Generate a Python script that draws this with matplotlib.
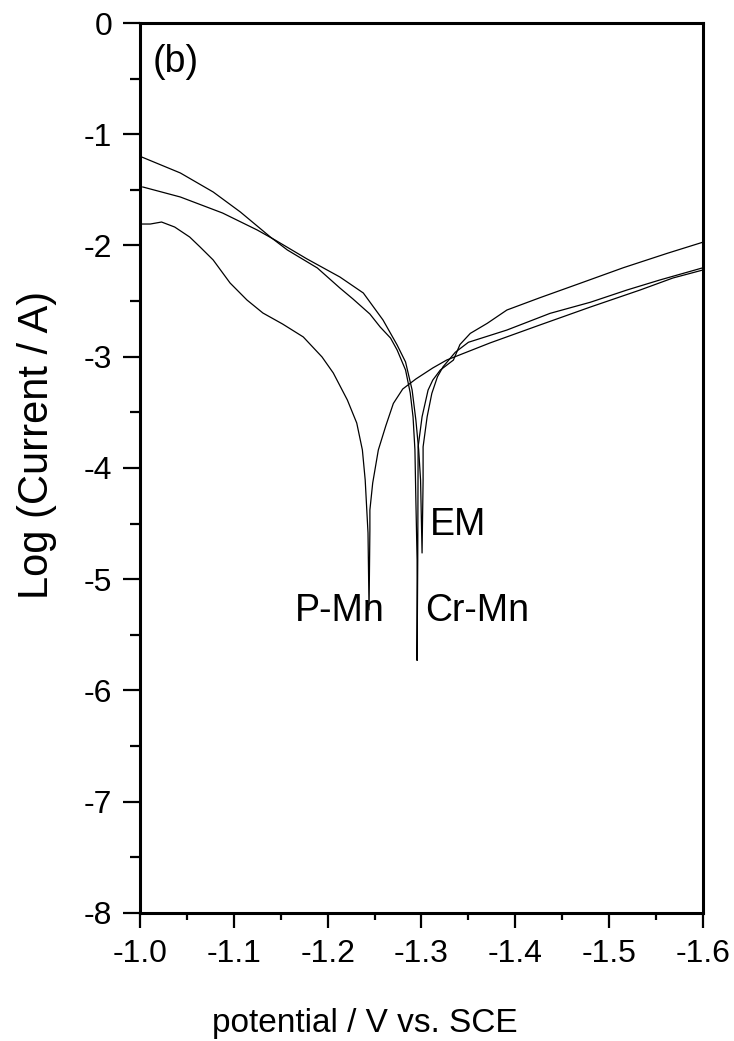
import numpy as np
import matplotlib.pyplot as plt

plt.rcParams['font.family'] = ['Liberation Sans', 'DejaVu Sans']

# potential (V vs. SCE) and log(current / A)
crmn_E = [-1.002, -1.043, -1.078, -1.107, -1.139, -1.157, -1.189, -1.213, -1.227,
          -1.245, -1.256, -1.267, -1.274, -1.283, -1.288, -1.291, -1.293, -1.294, -1.2953,
          -1.2953, -1.296, -1.2964, -1.3006, -1.307, -1.312, -1.320, -1.334, -1.341,
          -1.352, -1.370, -1.391, -1.426, -1.469, -1.515, -1.562, -1.600]
crmn_logI = [-1.205, -1.348, -1.519, -1.699, -1.924, -2.040, -2.202, -2.382, -2.481,
             -2.616, -2.733, -2.832, -2.939, -3.119, -3.326, -3.542, -3.838, -4.288, -4.827,
             -5.73, -4.83, -3.81, -3.54, -3.30, -3.21, -3.12, -3.03, -2.89,
             -2.79, -2.70, -2.58, -2.47, -2.34, -2.20, -2.07, -1.97]

em_E = [-1.003, -1.043, -1.088, -1.125, -1.144, -1.178, -1.213, -1.238, -1.259,
        -1.274, -1.283, -1.290, -1.294, -1.297, -1.299, -1.3006, -1.3017, -1.3017,
        -1.306, -1.311, -1.317, -1.323, -1.336, -1.350, -1.391, -1.437, -1.480,
        -1.519, -1.554, -1.600]
em_logI = [-1.474, -1.564, -1.708, -1.861, -1.951, -2.121, -2.283, -2.427, -2.670,
           -2.894, -3.047, -3.299, -3.569, -3.838, -4.108, -4.764, -4.11, -3.81,
           -3.54, -3.33, -3.18, -3.09, -2.96, -2.87, -2.76, -2.61, -2.51,
           -2.40, -2.31, -2.20]

pmn_E = [-1.002, -1.011, -1.023, -1.037, -1.053, -1.064, -1.078, -1.096, -1.114,
         -1.131, -1.152, -1.174, -1.194, -1.206, -1.221, -1.231, -1.237, -1.240,
         -1.243, -1.2441, -1.245, -1.245, -1.248, -1.254, -1.262, -1.270, -1.280,
         -1.294, -1.312, -1.327, -1.373, -1.426, -1.480, -1.533, -1.568, -1.600]
pmn_logI = [-1.807, -1.807, -1.789, -1.834, -1.924, -2.013, -2.130, -2.337, -2.490,
            -2.607, -2.706, -2.822, -3.002, -3.146, -3.389, -3.596, -3.838, -4.108,
            -4.584, -5.276, -4.557, -4.378, -4.135, -3.838, -3.620, -3.420, -3.290,
            -3.200, -3.101, -3.029, -2.876, -2.715, -2.553, -2.400, -2.292, -2.220]

fig = plt.figure(figsize=(7.34, 10.41), dpi=100)
ax = fig.add_axes([0.1907, 0.1230, 0.7671, 0.8549])

ax.plot(crmn_E, crmn_logI, color='black', lw=0.9)
ax.plot(em_E, em_logI, color='black', lw=0.9)
ax.plot(pmn_E, pmn_logI, color='black', lw=0.9)

ax.set_xlim(-1.0, -1.6)
ax.set_ylim(-8, 0)
ax.set_xticks(np.arange(-1.0, -1.61, -0.1))
ax.set_xticks(np.arange(-1.05, -1.6, -0.1), minor=True)
ax.set_xticklabels(['-1.0', '-1.1', '-1.2', '-1.3', '-1.4', '-1.5', '-1.6'])
ax.set_yticks(np.arange(0, -8.1, -1))
ax.set_yticks(np.arange(-0.5, -8, -1), minor=True)
ax.set_yticklabels(['0', '-1', '-2', '-3', '-4', '-5', '-6', '-7', '-8'])

for s in ax.spines.values():
    s.set_linewidth(2.2)
ax.tick_params(axis='both', which='major', direction='out', width=1.6, labelsize=23, pad=8)
ax.tick_params(axis='x', which='major', length=11)
ax.tick_params(axis='y', which='major', length=12)
ax.tick_params(axis='x', which='minor', direction='out', length=5, width=1.6)
ax.tick_params(axis='y', which='minor', direction='out', length=7, width=1.6)

ax.set_xlabel('potential / V vs. SCE', fontsize=24)
ax.xaxis.set_label_coords(0.40, -0.1337)
ax.xaxis.label.set_verticalalignment('baseline')
ax.set_ylabel('Log (Current / A)', fontsize=30)
ax.yaxis.set_label_coords(-0.183, 0.526)
ax.yaxis.label.set_verticalalignment('center')

ax.text(-1.014, -0.35, '(b)', fontsize=27, ha='left', va='center')
ax.text(-1.309, -4.60, 'EM', fontsize=27, ha='left', va='baseline')
ax.text(-1.304, -5.375, 'Cr-Mn', fontsize=27, ha='left', va='baseline')
ax.text(-1.261, -5.375, 'P-Mn', fontsize=27, ha='right', va='baseline')

fig.savefig('out.png', dpi=100)
